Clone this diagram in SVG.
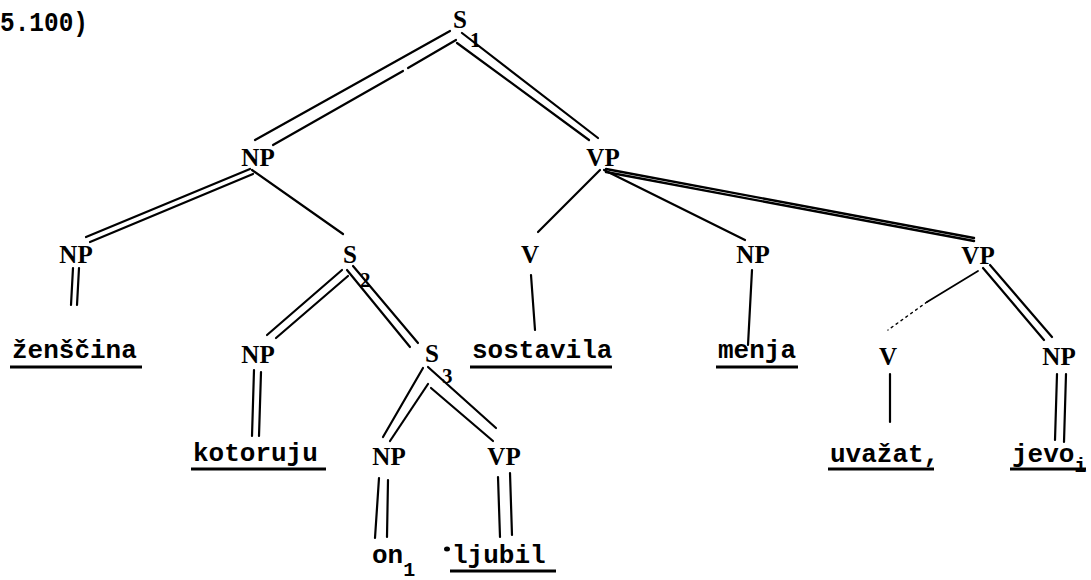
<svg xmlns="http://www.w3.org/2000/svg" width="1091" height="580" viewBox="0 0 1091 580">
<style>
.lab{font-family:"Liberation Serif","DejaVu Serif",serif;font-weight:bold;font-size:25px;fill:#000;text-anchor:middle}
.sub{font-family:"Liberation Serif","DejaVu Serif",serif;font-weight:bold;font-size:21px;fill:#000}
.w{font-family:"Liberation Mono","DejaVu Sans Mono",monospace;font-weight:bold;font-size:26px;fill:#000}
.wsub{font-family:"Liberation Mono","DejaVu Sans Mono",monospace;font-weight:bold;font-size:20px;fill:#000}
.num{font-family:"Liberation Mono","DejaVu Sans Mono",monospace;font-weight:bold;font-size:28px;fill:#000}
.e line{stroke:#000;stroke-width:2.2;fill:none;stroke-linecap:round}
.ul{stroke:#000;stroke-width:3;fill:none}
</style>
<rect width="1091" height="580" fill="#fff"/>
<text class="num" x="0" y="31" textLength="88" lengthAdjust="spacingAndGlyphs">5.100)</text>
<g class="e" id="connectors">
<line x1="450" y1="31" x2="255" y2="140"/>
<line x1="456" y1="40" x2="408" y2="68"/>
<line x1="403" y1="71" x2="273" y2="145"/>
<line x1="462" y1="33" x2="598" y2="138"/>
<line x1="457" y1="43" x2="589" y2="140"/>
<line x1="250" y1="169" x2="86" y2="237"/>
<line x1="253" y1="174" x2="90" y2="242"/>
<line x1="252" y1="170" x2="343" y2="234"/>
<line x1="73" y1="268" x2="71" y2="305"/>
<line x1="79" y1="268" x2="77" y2="305"/>
<line x1="342" y1="270" x2="267" y2="335"/>
<line x1="348" y1="276" x2="276" y2="338"/>
<line x1="347" y1="270" x2="410" y2="347"/>
<line x1="353" y1="266" x2="418" y2="343"/>
<line x1="254" y1="370" x2="252" y2="436"/>
<line x1="261" y1="372" x2="259" y2="436"/>
<line x1="423" y1="368" x2="383" y2="437"/>
<line x1="428" y1="384" x2="390" y2="441"/>
<line x1="428" y1="367" x2="496" y2="428"/>
<line x1="431" y1="388" x2="493" y2="441"/>
<line x1="379" y1="478" x2="375" y2="538"/>
<line x1="388" y1="480" x2="387" y2="537"/>
<line x1="498" y1="477" x2="500" y2="537"/>
<line x1="510" y1="473" x2="512" y2="535"/>
<line x1="600" y1="170" x2="538" y2="232"/>
<line x1="604" y1="170" x2="745" y2="240"/>
<line x1="606" y1="169" x2="974" y2="238" style="stroke-width:2.4"/>
<line x1="606" y1="172" x2="974" y2="241" style="stroke-width:2.4"/>
<line x1="531" y1="275" x2="535" y2="330"/>
<line x1="752" y1="270" x2="748" y2="345"/>
<line x1="978" y1="271" x2="927" y2="302" style="stroke-width:1.8"/>
<line x1="927" y1="302" x2="888" y2="330" style="stroke-width:1.4;stroke-dasharray:2 4"/>
<line x1="983" y1="268" x2="1044" y2="340"/>
<line x1="990" y1="265" x2="1052" y2="337"/>
<line x1="890" y1="374" x2="890" y2="422"/>
<line x1="1057" y1="374" x2="1055" y2="440"/>
<line x1="1066" y1="374" x2="1064" y2="442"/>
</g>
<g id="S1"><text class="lab" x="460" y="28">S</text><text class="sub" x="470" y="47">1</text></g>
<g id="NP1"><text class="lab" x="258" y="166">NP</text></g>
<g id="VP1"><text class="lab" x="603" y="166">VP</text></g>
<g id="NP2"><text class="lab" x="76" y="263">NP</text></g>
<g id="S2"><text class="lab" x="350" y="263">S</text><text class="sub" x="360" y="287">2</text></g>
<g id="V1"><text class="lab" x="530" y="263">V</text></g>
<g id="NP3"><text class="lab" x="753" y="263">NP</text></g>
<g id="VP2"><text class="lab" x="978" y="264">VP</text></g>
<g id="zenscina"><text class="w" x="12" y="358">ženščina</text><line class="ul" x1="10" y1="367" x2="142" y2="367"/></g>
<g id="NP4"><text class="lab" x="258" y="363">NP</text></g>
<g id="S3"><text class="lab" x="432" y="362">S</text><text class="sub" x="442" y="383">3</text></g>
<g id="sostavila"><text class="w" x="472" y="358">sostavila</text><line class="ul" x1="470" y1="367" x2="612" y2="367"/></g>
<g id="menja"><text class="w" x="718" y="358">menja</text><line class="ul" x1="716" y1="367" x2="798" y2="367"/></g>
<g id="V2"><text class="lab" x="888" y="365">V</text></g>
<g id="NP5"><text class="lab" x="1059" y="365">NP</text></g>
<g id="kotoruju"><text class="w" x="193" y="461">kotoruju</text><line class="ul" x1="191" y1="469" x2="326" y2="469"/></g>
<g id="NP6"><text class="lab" x="389" y="465">NP</text></g>
<g id="VP3"><text class="lab" x="504" y="465">VP</text></g>
<g id="uvazat"><text class="w" x="830" y="462">uvažat,</text><line class="ul" x1="828" y1="469" x2="934" y2="469"/></g>
<g id="jevo"><text class="w" x="1012" y="462">jevo<tspan class="wsub" dy="10">i</tspan></text><line class="ul" x1="1010" y1="469" x2="1086" y2="469"/></g>
<g id="on"><text class="w" x="372" y="563">on<tspan class="wsub" dy="13">1</tspan></text></g>
<g id="ljubil"><ellipse cx="447" cy="549" rx="3" ry="2.5" fill="#000"/><text class="w" x="452" y="563">ljubil</text><line class="ul" x1="450" y1="571" x2="556" y2="571"/></g>
</svg>
